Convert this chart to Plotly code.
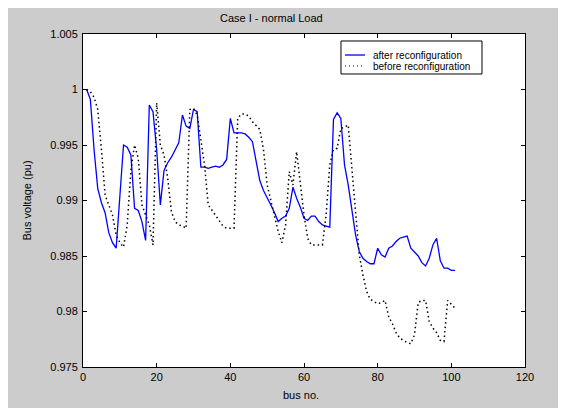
import plotly.graph_objects as go

bus = list(range(1, 102))

after_reconf = [
    1.0000, 0.9991, 0.9946, 0.9911, 0.9898, 0.9889, 0.9871, 0.9862, 0.9857, 0.9905,
    0.9950, 0.9948, 0.9941, 0.9893, 0.9891, 0.9881, 0.9864, 0.9986, 0.9980, 0.9946,
    0.9896, 0.9927, 0.9934, 0.9939, 0.9946, 0.9952, 0.9977, 0.9967, 0.9965, 0.9982,
    0.9980, 0.9930, 0.9930, 0.9929, 0.9930, 0.9931, 0.9930, 0.9932, 0.9937, 0.9974,
    0.9961, 0.9961, 0.9961, 0.9960, 0.9957, 0.9953, 0.9937, 0.9918, 0.9909, 0.9903,
    0.9896, 0.9889, 0.9881, 0.9884, 0.9886, 0.9893, 0.9912, 0.9902, 0.9894, 0.9884,
    0.9882, 0.9886, 0.9886, 0.9881, 0.9878, 0.9877, 0.9876, 0.9973, 0.9979, 0.9974,
    0.9932, 0.9914, 0.9890, 0.9869, 0.9854, 0.9848, 0.9845, 0.9843, 0.9843, 0.9857,
    0.9851, 0.9849, 0.9857, 0.9859, 0.9863, 0.9866, 0.9867, 0.9868, 0.9857, 0.9853,
    0.9850, 0.9844, 0.9841, 0.9848, 0.9860, 0.9866, 0.9846, 0.9839, 0.9839, 0.9837,
    0.9837,
]

before_reconf = [
    1.0000, 0.9998, 0.9993, 0.9982, 0.9946, 0.9905, 0.9896, 0.9887, 0.9869, 0.9862,
    0.9858, 0.9878, 0.9927, 0.9950, 0.9938, 0.9896, 0.9887, 0.9878, 0.9860, 0.9988,
    0.9950, 0.9941, 0.9920, 0.9890, 0.9881, 0.9878, 0.9877, 0.9875, 0.9982, 0.9983,
    0.9977, 0.9955, 0.9932, 0.9896, 0.9891, 0.9886, 0.9881, 0.9877, 0.9875, 0.9875,
    0.9875, 0.9974, 0.9978, 0.9978, 0.9976, 0.9971, 0.9967, 0.9964, 0.9946, 0.9914,
    0.9900, 0.9887, 0.9872, 0.9862, 0.9878, 0.9926, 0.9914, 0.9944, 0.9914, 0.9887,
    0.9866, 0.9860, 0.9860, 0.9860, 0.9860, 0.9887, 0.9932, 0.9946, 0.9947, 0.9965,
    0.9966, 0.9968, 0.9927, 0.9887, 0.9851, 0.9833, 0.9818, 0.9811, 0.9809, 0.9807,
    0.9808, 0.9810, 0.9795, 0.9789, 0.9781, 0.9776, 0.9774, 0.9772, 0.9771, 0.9779,
    0.9808, 0.9810, 0.9810, 0.9791, 0.9785, 0.9781, 0.9774, 0.9773, 0.9810, 0.9806,
    0.9803,
]

x_tick_vals = [0, 20, 40, 60, 80, 100, 120]
x_tick_text = ["0", "20", "40", "60", "80", "100", "120"]
y_tick_vals = [0.975, 0.98, 0.985, 0.99, 0.995, 1.0, 1.005]
y_tick_text = ["0.975", "0.98", "0.985", "0.99", "0.995", "1", "1.005"]

title_text = "Case I - normal Load"
x_label = "bus no."
y_label = "Bus voltage (pu)"
legend_names = ["after reconfiguration", "before reconfiguration"]

FONT = "Liberation Sans, Arial, Helvetica, sans-serif"
BLUE = "#0000ff"

fig = go.Figure()
fig.add_trace(go.Scatter(x=bus, y=after_reconf, mode="lines",
                         line=dict(color=BLUE, width=1.3),
                         name=legend_names[0], showlegend=False))
fig.add_trace(go.Scatter(x=bus, y=before_reconf, mode="lines",
                         line=dict(color="#000000", width=1.5, dash="1.5px,3px"),
                         name=legend_names[1], showlegend=False))

axis_common = dict(
    showline=True, linecolor="black", linewidth=1, mirror="allticks",
    ticks="inside", ticklen=4, tickcolor="black", tickwidth=1,
    showgrid=False, zeroline=False,
    tickfont=dict(family=FONT, size=11, color="black"),
)

fig.update_xaxes(range=[0, 120], tickmode="array", tickvals=x_tick_vals,
                 ticktext=x_tick_text, **axis_common)
fig.update_yaxes(range=[0.975, 1.005], tickmode="array", tickvals=y_tick_vals,
                 ticktext=y_tick_text, ticklabelstandoff=2, **axis_common)

shapes = [
    # legend box
    dict(type="rect", xref="paper", yref="paper", x0=0.5837, x1=0.9027,
         y0=0.8799, y1=0.979, fillcolor="white", line=dict(color="black", width=1)),
    # legend line samples
    dict(type="line", xref="paper", yref="paper", x0=0.5928, x1=0.6380,
         y0=0.9369, y1=0.9369, line=dict(color=BLUE, width=1.3)),
    dict(type="line", xref="paper", yref="paper", x0=0.5928, x1=0.6380,
         y0=0.9039, y1=0.9039, line=dict(color="black", width=1, dash="1px,3px")),
]

annotations = [
    dict(text=title_text, xref="paper", yref="paper", x=0.4276, y=1.048,
         xanchor="center", yanchor="middle", showarrow=False,
         font=dict(family=FONT, size=11, color="black")),
    dict(text=x_label, xref="paper", yref="paper", x=0.493, y=-0.084,
         xanchor="center", yanchor="middle", showarrow=False,
         font=dict(family=FONT, size=11, color="black")),
    dict(text=y_label, xref="paper", yref="paper", x=-0.1267, y=0.5,
         xanchor="center", yanchor="middle", textangle=-90, showarrow=False,
         font=dict(family=FONT, size=11, color="black")),
    dict(text=legend_names[0], xref="paper", yref="paper", x=0.6515, y=0.9369,
         xanchor="left", yanchor="middle", showarrow=False,
         font=dict(family=FONT, size=10, color="black")),
    dict(text=legend_names[1], xref="paper", yref="paper", x=0.6515, y=0.9039,
         xanchor="left", yanchor="middle", showarrow=False,
         font=dict(family=FONT, size=10, color="black")),
]

fig.update_layout(
    width=566, height=408,
    margin=dict(l=75, r=49, t=26, b=49, pad=0),
    paper_bgcolor="#cccccc", plot_bgcolor="white",
    shapes=shapes, annotations=annotations,
    showlegend=False,
    font=dict(family=FONT, size=11, color="black"),
)

fig.write_html("out.html")
